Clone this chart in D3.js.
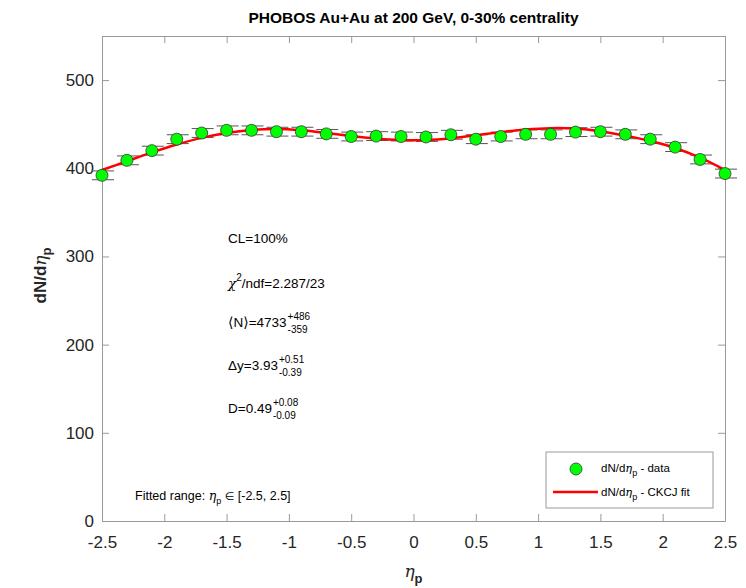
<!DOCTYPE html>
<html>
<head>
<meta charset="utf-8">
<script src="https://d3js.org/d3.v7.min.js"></script>
<style>
  body { margin: 0; background: #fff; }
  text { font-family: "Liberation Sans", Arial, sans-serif; }
</style>
</head>
<body>
<svg id="chart" width="746" height="588"></svg>
<script>
// data points (PHOBOS dN/deta_p)
var eta = [-2.5, -2.3, -2.1, -1.9, -1.7, -1.5, -1.3, -1.1, -0.9, -0.7, -0.5, -0.3, -0.1,
           0.1, 0.3, 0.5, 0.7, 0.9, 1.1, 1.3, 1.5, 1.7, 1.9, 2.1, 2.3, 2.5];
var dndeta = [392, 409, 420, 433, 440, 443, 443, 441.5, 441.5, 439, 436, 436.5, 436,
              435.5, 438, 433, 436, 438.5, 438.5, 441, 441.5, 438.5, 433, 424, 410, 394];
var errs = [5, 5, 5, 5, 5, 5, 5, 5, 5, 5, 5, 5, 5,
            5, 5, 5, 5, 5, 5, 5, 5, 5, 5, 5, 5, 5];

// CKCJ fit curve
var fitEta = [-2.5, -2.3, -2.1, -1.9, -1.7, -1.5, -1.3, -1.1, -0.9, -0.7, -0.5, -0.3, -0.1,
              0.1, 0.3, 0.5, 0.7, 0.9, 1.1, 1.3, 1.5, 1.7, 1.9, 2.1, 2.3, 2.5];
var fitVal = [398, 408, 418, 427, 434.5, 440, 443.5, 444.5, 443, 440, 436.5, 433.5, 432,
              432, 434, 437.5, 441, 444, 445.5, 445, 442, 437, 431, 423, 412, 398];

var xTicks = [-2.5, -2, -1.5, -1, -0.5, 0, 0.5, 1, 1.5, 2, 2.5];
var yTicks = [0, 100, 200, 300, 400, 500];

var svg = d3.select("#chart");
var pLeft = 102, pRight = 725, pTop = 36, pBottom = 521;

var x = d3.scaleLinear().domain([-2.5, 2.5]).range([pLeft, pRight]);
var y = d3.scaleLinear().domain([0, 550]).range([pBottom, pTop]);

var axisCol = "#9a9a9a", textCol = "#262626";
var greek = "'DejaVu Serif', serif";

//axes (MATLAB style, ticks inside)
var gx = svg.append("g").attr("transform", "translate(0," + pBottom + ")")
    .call(d3.axisBottom(x).tickValues(xTicks).tickSizeInner(-7).tickSizeOuter(0).tickPadding(12).tickFormat(function(d){ return String(d); }));
var gxt = svg.append("g").attr("transform", "translate(0," + pTop + ")")
    .call(d3.axisTop(x).tickValues(xTicks).tickSizeInner(-7).tickSizeOuter(0).tickFormat(""));
var gy = svg.append("g").attr("transform", "translate(" + pLeft + ",0)")
    .call(d3.axisLeft(y).tickValues(yTicks).tickSizeInner(-7).tickSizeOuter(0).tickPadding(8));
var gyr = svg.append("g").attr("transform", "translate(" + pRight + ",0)")
    .call(d3.axisRight(y).tickValues(yTicks).tickSizeInner(-7).tickSizeOuter(0).tickFormat(""));

[gx, gxt, gy, gyr].forEach(function(g) {
    g.selectAll("path").attr("stroke", axisCol).attr("stroke-width", 1);
    g.selectAll("line").attr("stroke", axisCol).attr("stroke-width", 1);
    g.selectAll("text").attr("fill", textCol).attr("font-size", "17px")
        .attr("font-family", "'Liberation Sans', Arial, sans-serif");
});
gx.selectAll("text").attr("dy", "0.9em");

// title
svg.append("text")
    .attr("x", (pLeft + pRight) / 2)
    .attr("y", 23)
    .attr("text-anchor", "middle")
    .attr("font-size", "15.5px")
    .attr("font-weight", "bold")
    .attr("fill", "#000")
    .text("PHOBOS Au+Au at 200 GeV, 0-30% centrality");

// y label
var yl = svg.append("text")
    .attr("transform", "translate(46," + ((pTop + pBottom) / 2 - 3) + ") rotate(-90)")
    .attr("text-anchor", "middle")
    .attr("font-size", "17px")
    .attr("font-weight", "bold")
    .attr("fill", textCol);
yl.append("tspan").text("dN/d");
yl.append("tspan").attr("font-weight", "normal").attr("font-style", "italic").attr("font-family", greek).text("η");
yl.append("tspan").attr("font-size", "13px").attr("dy", 5).text("p");

// x label
var xl = svg.append("text")
    .attr("x", (pLeft + pRight) / 2)
    .attr("y", 577)
    .attr("text-anchor", "middle")
    .attr("font-size", "17px")
    .attr("fill", textCol);
xl.append("tspan").attr("font-style", "italic").attr("font-family", greek).text("η");
xl.append("tspan").attr("font-size", "13px").attr("font-weight", "bold").attr("dy", 6).text("p");

// error bars
var eb = svg.append("g");
eta.forEach(function(e, i) {
    var cx = x(e);
    eb.append("line")
        .attr("x1", cx).attr("x2", cx)
        .attr("y1", y(dndeta[i] - errs[i])).attr("y2", y(dndeta[i] + errs[i]))
        .attr("stroke", "#444").attr("stroke-width", 1);
    [dndeta[i] - errs[i], dndeta[i] + errs[i]].forEach(function(v) {
        eb.append("line")
            .attr("x1", cx - 10).attr("x2", cx + 12)
            .attr("y1", y(v)).attr("y2", y(v))
            .attr("stroke", "#555").attr("stroke-width", 1);
    });
});

// fit line
var line = d3.line()
    .x(function(d, i) { return x(fitEta[i]); })
    .y(function(d) { return y(d); })
    .curve(d3.curveCatmullRom);

svg.append("path")
    .datum(fitVal)
    .attr("d", line)
    .attr("fill", "none")
    .attr("stroke", "#ff0000")
    .attr("stroke-width", 2.5);

// data markers
svg.append("g").selectAll("circle")
    .data(dndeta)
    .enter()
    .append("circle")
    .attr("cx", function(d, i) { return x(eta[i]); })
    .attr("cy", function(d) { return y(d); })
    .attr("r", 6)
    .attr("fill", "#00ff00")
    .attr("stroke", "#333")
    .attr("stroke-width", 0.8);

// fit parameters text, with stacked +/- errors
function addScript(px, py, build, sup, sub) {
    var t = svg.append("text").attr("x", px).attr("y", py)
        .attr("font-size", "13.5px").attr("fill", "#000");
    build(t);
    if (sup) {
        var w = t.node().getBBox().width;
        svg.append("text").attr("x", px + w + 1).attr("y", py - 7)
            .attr("font-size", "10px").attr("fill", "#000").text(sup);
        svg.append("text").attr("x", px + w + 1).attr("y", py + 6)
            .attr("font-size", "10px").attr("fill", "#000").text(sub);
    }
}

var tx = 228;
addScript(tx, 243, function(t) { t.text("CL=100%"); });
addScript(tx, 288, function(t) {
    t.append("tspan").attr("font-family", greek).attr("font-style", "italic").text("χ");
    t.append("tspan").attr("font-size", "10px").attr("dy", -7).text("2");
    t.append("tspan").attr("dy", 7).text("/ndf=2.287/23");
});
addScript(tx, 327, function(t) {
    t.append("tspan").attr("font-family", "'DejaVu Sans', sans-serif").attr("font-size", "14px").text("⟨");
    t.append("tspan").text("N");
    t.append("tspan").attr("font-family", "'DejaVu Sans', sans-serif").attr("font-size", "14px").text("⟩");
    t.append("tspan").text("=4733");
}, "+486", "-359");
addScript(tx, 370, function(t) { t.text("Δy=3.93"); }, "+0.51", "-0.39");
addScript(tx, 413, function(t) { t.text("D=0.49"); }, "+0.08", "-0.09");

// fitted range
var fr = svg.append("text").attr("x", 135).attr("y", 500)
    .attr("font-size", "12.5px").attr("fill", "#000");
fr.append("tspan").text("Fitted range: ");
fr.append("tspan").attr("font-family", greek).attr("font-style", "italic").text("η");
fr.append("tspan").attr("font-size", "9px").attr("dy", 4).text("p");
fr.append("tspan").attr("dy", -4).attr("font-family", "'DejaVu Sans', sans-serif").attr("font-size", "11px").text(" ∈ ");
fr.append("tspan").text("[-2.5, 2.5]");

// legend
var lg = svg.append("g");
lg.append("rect")
    .attr("x", 546).attr("y", 452)
    .attr("width", 167).attr("height", 56)
    .attr("fill", "#fff").attr("stroke", "#9a9a9a").attr("stroke-width", 1);
lg.append("circle").attr("cx", 576).attr("cy", 469).attr("r", 6)
    .attr("fill", "#00ff00").attr("stroke", "#333").attr("stroke-width", 0.8);
lg.append("line").attr("x1", 553).attr("x2", 598).attr("y1", 492).attr("y2", 492)
    .attr("stroke", "#ff0000").attr("stroke-width", 2.5);

function legendText(py, rest) {
    var t = lg.append("text").attr("x", 601).attr("y", py)
        .attr("font-size", "11.5px").attr("fill", "#000");
    t.append("tspan").text("dN/d");
    t.append("tspan").attr("font-family", greek).attr("font-style", "italic").text("η");
    t.append("tspan").attr("font-size", "9px").attr("dy", 4).text("p");
    t.append("tspan").attr("dy", -4).text(rest);
}
legendText(472, " - data");
legendText(496, " - CKCJ fit");
</script>
</body>
</html>
